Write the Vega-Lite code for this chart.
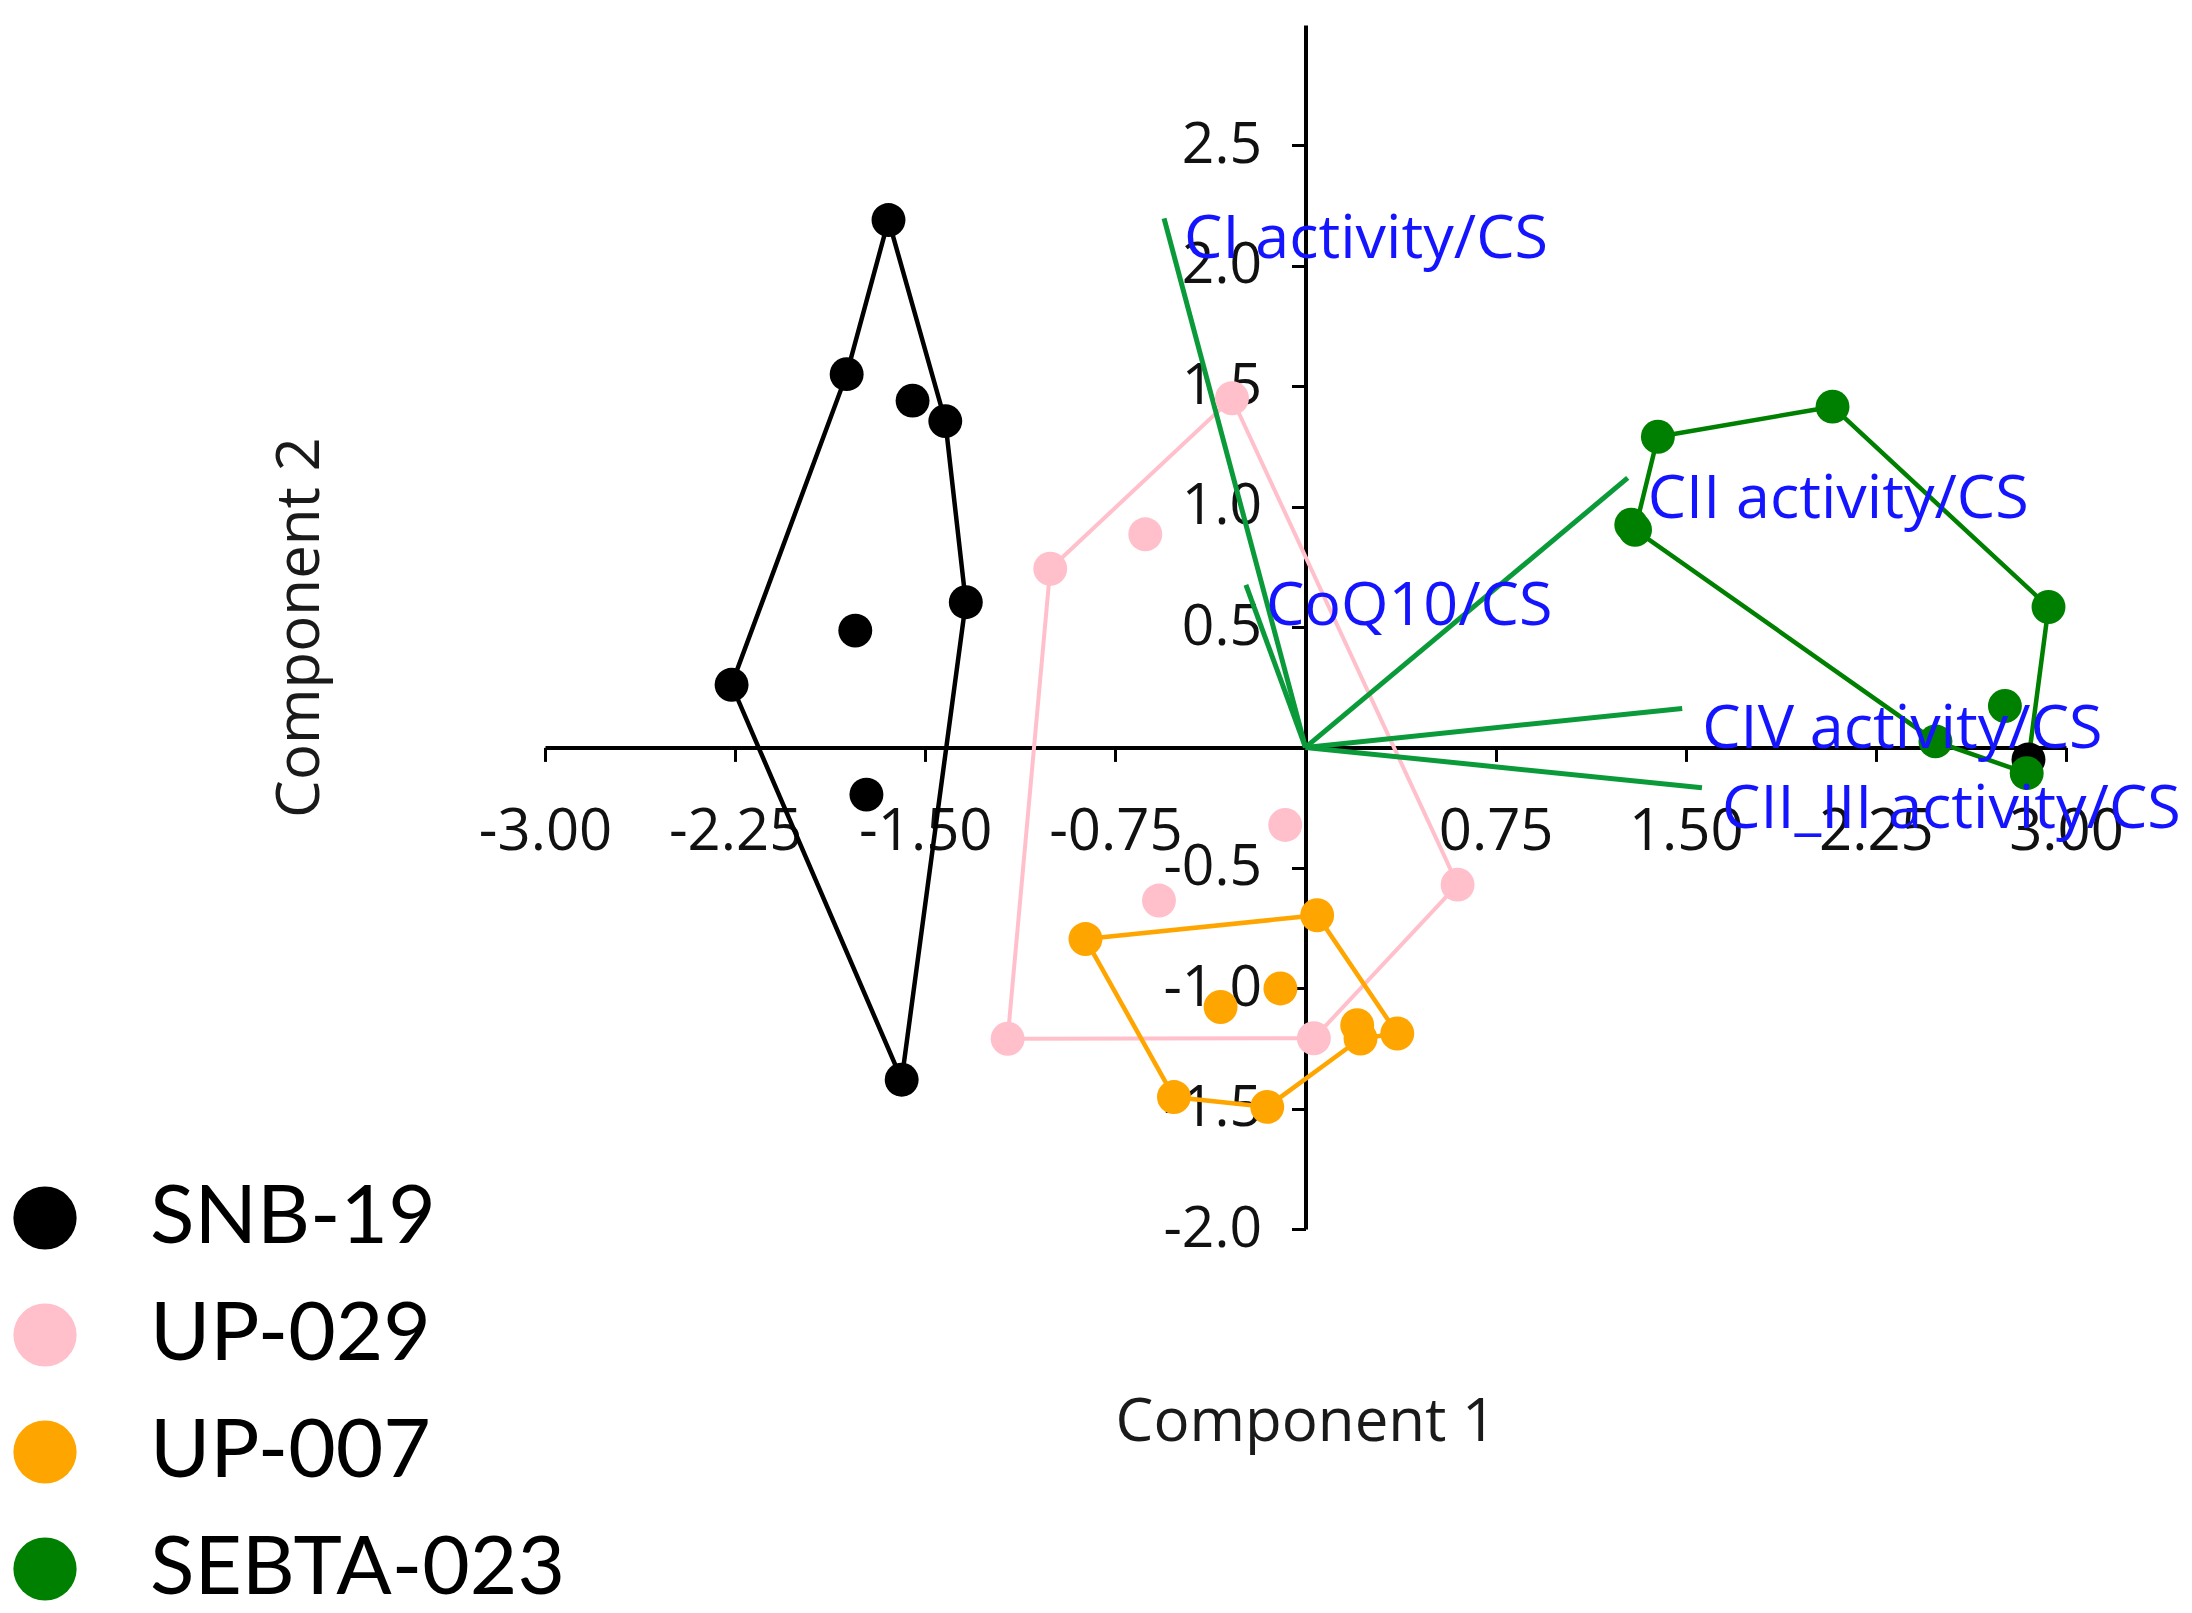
{
  "$schema": "https://vega.github.io/schema/vega-lite/v6.json",
  "width": 1521,
  "height": 1204,
  "autosize": "none",
  "padding": {"left": 545, "top": 25, "right": 126, "bottom": 384},
  "background": "white",
  "config": {
    "view": {"stroke": null},
    "axis": {"grid": false, "labelFont": "Open Sans", "titleFont": "Open Sans", "labelColor": "#111111", "titleColor": "#1a1a1a", "domainColor": "black", "tickColor": "black", "labelOverlap": false, "labelFlush": false, "titleFontWeight": "normal"}
  },
  "datasets": {
    "scores": [
      {"line": "SNB-19", "x": -1.645, "y": 2.19},
      {"line": "SNB-19", "x": -1.81, "y": 1.55},
      {"line": "SNB-19", "x": -1.55, "y": 1.44},
      {"line": "SNB-19", "x": -1.421, "y": 1.355},
      {"line": "SNB-19", "x": -1.34, "y": 0.603},
      {"line": "SNB-19", "x": -1.776, "y": 0.485},
      {"line": "SNB-19", "x": -2.264, "y": 0.26},
      {"line": "SNB-19", "x": -1.732, "y": -0.196},
      {"line": "SNB-19", "x": -1.593, "y": -1.38},
      {"line": "SNB-19", "x": 2.852, "y": -0.05},
      {"line": "UP-029", "x": -1.007, "y": 0.742},
      {"line": "UP-029", "x": -0.632, "y": 0.885},
      {"line": "UP-029", "x": -0.29, "y": 1.45},
      {"line": "UP-029", "x": -0.08, "y": -0.322},
      {"line": "UP-029", "x": -0.578, "y": -0.636},
      {"line": "UP-029", "x": 0.6, "y": -0.57},
      {"line": "UP-029", "x": -1.175, "y": -1.21},
      {"line": "UP-029", "x": 0.033, "y": -1.208},
      {"line": "UP-007", "x": -0.868, "y": -0.796},
      {"line": "UP-007", "x": 0.046, "y": -0.697},
      {"line": "UP-007", "x": -0.099, "y": -1.001},
      {"line": "UP-007", "x": -0.335, "y": -1.078},
      {"line": "UP-007", "x": 0.204, "y": -1.154},
      {"line": "UP-007", "x": 0.217, "y": -1.209},
      {"line": "UP-007", "x": 0.362, "y": -1.188},
      {"line": "UP-007", "x": -0.519, "y": -1.452},
      {"line": "UP-007", "x": -0.151, "y": -1.493},
      {"line": "SEBTA-023", "x": 1.39, "y": 1.29},
      {"line": "SEBTA-023", "x": 2.079, "y": 1.415},
      {"line": "SEBTA-023", "x": 1.3, "y": 0.904},
      {"line": "SEBTA-023", "x": 1.285, "y": 0.925},
      {"line": "SEBTA-023", "x": 2.931, "y": 0.583},
      {"line": "SEBTA-023", "x": 2.759, "y": 0.172},
      {"line": "SEBTA-023", "x": 2.485, "y": 0.025},
      {"line": "SEBTA-023", "x": 2.845, "y": -0.107}
    ],
    "hulls": [
      {"line": "SNB-19", "k": 1, "x": -1.645, "y": 2.19},
      {"line": "SNB-19", "k": 2, "x": -1.81, "y": 1.55},
      {"line": "SNB-19", "k": 3, "x": -2.264, "y": 0.26},
      {"line": "SNB-19", "k": 4, "x": -1.593, "y": -1.38},
      {"line": "SNB-19", "k": 5, "x": -1.34, "y": 0.603},
      {"line": "SNB-19", "k": 6, "x": -1.421, "y": 1.355},
      {"line": "SNB-19", "k": 7, "x": -1.645, "y": 2.19},
      {"line": "UP-029", "k": 1, "x": -1.007, "y": 0.742},
      {"line": "UP-029", "k": 2, "x": -0.29, "y": 1.45},
      {"line": "UP-029", "k": 3, "x": 0.6, "y": -0.57},
      {"line": "UP-029", "k": 4, "x": 0.033, "y": -1.208},
      {"line": "UP-029", "k": 5, "x": -1.175, "y": -1.21},
      {"line": "UP-029", "k": 6, "x": -1.007, "y": 0.742},
      {"line": "UP-007", "k": 1, "x": -0.868, "y": -0.796},
      {"line": "UP-007", "k": 2, "x": 0.046, "y": -0.697},
      {"line": "UP-007", "k": 3, "x": 0.362, "y": -1.188},
      {"line": "UP-007", "k": 4, "x": 0.217, "y": -1.209},
      {"line": "UP-007", "k": 5, "x": -0.151, "y": -1.493},
      {"line": "UP-007", "k": 6, "x": -0.519, "y": -1.452},
      {"line": "UP-007", "k": 7, "x": -0.868, "y": -0.796},
      {"line": "SEBTA-023", "k": 1, "x": 1.39, "y": 1.29},
      {"line": "SEBTA-023", "k": 2, "x": 2.079, "y": 1.415},
      {"line": "SEBTA-023", "k": 3, "x": 2.931, "y": 0.583},
      {"line": "SEBTA-023", "k": 4, "x": 2.845, "y": -0.107},
      {"line": "SEBTA-023", "k": 5, "x": 2.485, "y": 0.025},
      {"line": "SEBTA-023", "k": 6, "x": 1.3, "y": 0.904},
      {"line": "SEBTA-023", "k": 7, "x": 1.39, "y": 1.29}
    ],
    "loadings": [
      {"variable": "CI activity/CS", "x": -0.558, "y": 2.197},
      {"variable": "CII activity/CS", "x": 1.271, "y": 1.119},
      {"variable": "CoQ10/CS", "x": -0.235, "y": 0.675},
      {"variable": "CIV activity/CS", "x": 1.486, "y": 0.162},
      {"variable": "CII_III activity/CS", "x": 1.564, "y": -0.168}
    ]
  },
  "layer": [
    {
      "data": {"name": "hulls"},
      "transform": [{"filter": "datum.line === 'SNB-19'"}],
      "mark": {"type": "line", "strokeWidth": 4.5, "color": "#000000"},
      "encoding": {
        "x": {"field": "x", "type": "quantitative"},
        "y": {"field": "y", "type": "quantitative"},
        "order": {"field": "k", "type": "quantitative"}
      }
    },
    {
      "data": {"name": "hulls"},
      "transform": [{"filter": "datum.line === 'UP-029'"}],
      "mark": {"type": "line", "strokeWidth": 4, "color": "#FFC0CB"},
      "encoding": {
        "x": {"field": "x", "type": "quantitative"},
        "y": {"field": "y", "type": "quantitative"},
        "order": {"field": "k", "type": "quantitative"}
      }
    },
    {
      "data": {"name": "hulls"},
      "transform": [{"filter": "datum.line === 'UP-007'"}],
      "mark": {"type": "line", "strokeWidth": 4.5, "color": "#FFA500"},
      "encoding": {
        "x": {"field": "x", "type": "quantitative"},
        "y": {"field": "y", "type": "quantitative"},
        "order": {"field": "k", "type": "quantitative"}
      }
    },
    {
      "data": {"name": "hulls"},
      "transform": [{"filter": "datum.line === 'SEBTA-023'"}],
      "mark": {"type": "line", "strokeWidth": 4.5, "color": "#008000"},
      "encoding": {
        "x": {"field": "x", "type": "quantitative"},
        "y": {"field": "y", "type": "quantitative"},
        "order": {"field": "k", "type": "quantitative"}
      }
    },
    {
      "data": {"name": "loadings"},
      "mark": {"type": "rule", "color": "#0a9a3a", "strokeWidth": 5},
      "encoding": {
        "x": {"field": "x", "type": "quantitative"},
        "y": {"field": "y", "type": "quantitative"},
        "x2": {"datum": 0},
        "y2": {"datum": 0}
      }
    },
    {
      "data": {"name": "scores"},
      "mark": {"type": "point", "shape": "circle", "filled": true, "opacity": 1, "size": 1150},
      "encoding": {
        "x": {
          "field": "x", "type": "quantitative",
          "scale": {"domain": [-3, 3], "nice": false, "zero": false},
          "axis": {
            "title": "Component 1",
            "values": [-3, -2.25, -1.5, -0.75, 0.75, 1.5, 2.25, 3],
            "labelExpr": "replace(format(datum.value, '.2f'), '−', '-')",
            "offset": -481.6,
            "domainWidth": 4,
            "tickWidth": 3,
            "tickSize": 14,
            "labelFontSize": 58,
            "labelPadding": 42,
            "titleFontSize": 60,
            "titleBaseline": "middle",
            "titleY": 675
          }
        },
        "y": {
          "field": "y", "type": "quantitative",
          "scale": {"domain": [-2, 3], "nice": false, "zero": false},
          "axis": {
            "title": "Component 2",
            "values": [-2, -1.5, -1, -0.5, 0.5, 1, 1.5, 2, 2.5],
            "labelExpr": "replace(format(datum.value, '.1f'), '−', '-')",
            "offset": -760.5,
            "domainWidth": 4,
            "tickWidth": 3,
            "tickSize": 14,
            "labelFontSize": 57,
            "labelPadding": 30,
            "titleFontSize": 60,
            "titleBaseline": "middle",
            "titleX": -1005,
            "titleY": 602
          }
        },
        "color": {
          "field": "line", "type": "nominal",
          "scale": {"domain": ["SNB-19", "UP-029", "UP-007", "SEBTA-023"], "range": ["#000000", "#FFC0CB", "#FFA500", "#008000"]},
          "legend": {
            "title": null,
            "orient": "none",
            "legendX": -541,
            "legendY": 1152,
            "symbolType": "circle",
            "symbolSize": 4000,
            "symbolStrokeWidth": 0,
            "labelFont": "Lato",
            "labelFontSize": 82,
            "labelColor": "black",
            "labelOffset": 64,
            "rowPadding": 35,
            "labelLimit": 600
          }
        }
      }
    },
    {
      "data": {"name": "loadings"},
      "mark": {"type": "text", "align": "left", "baseline": "middle", "dx": 20, "dy": 22, "font": "Open Sans", "fontSize": 61, "color": "#1414ff"},
      "encoding": {
        "x": {"field": "x", "type": "quantitative"},
        "y": {"field": "y", "type": "quantitative"},
        "text": {"field": "variable", "type": "nominal"}
      }
    }
  ]
}
